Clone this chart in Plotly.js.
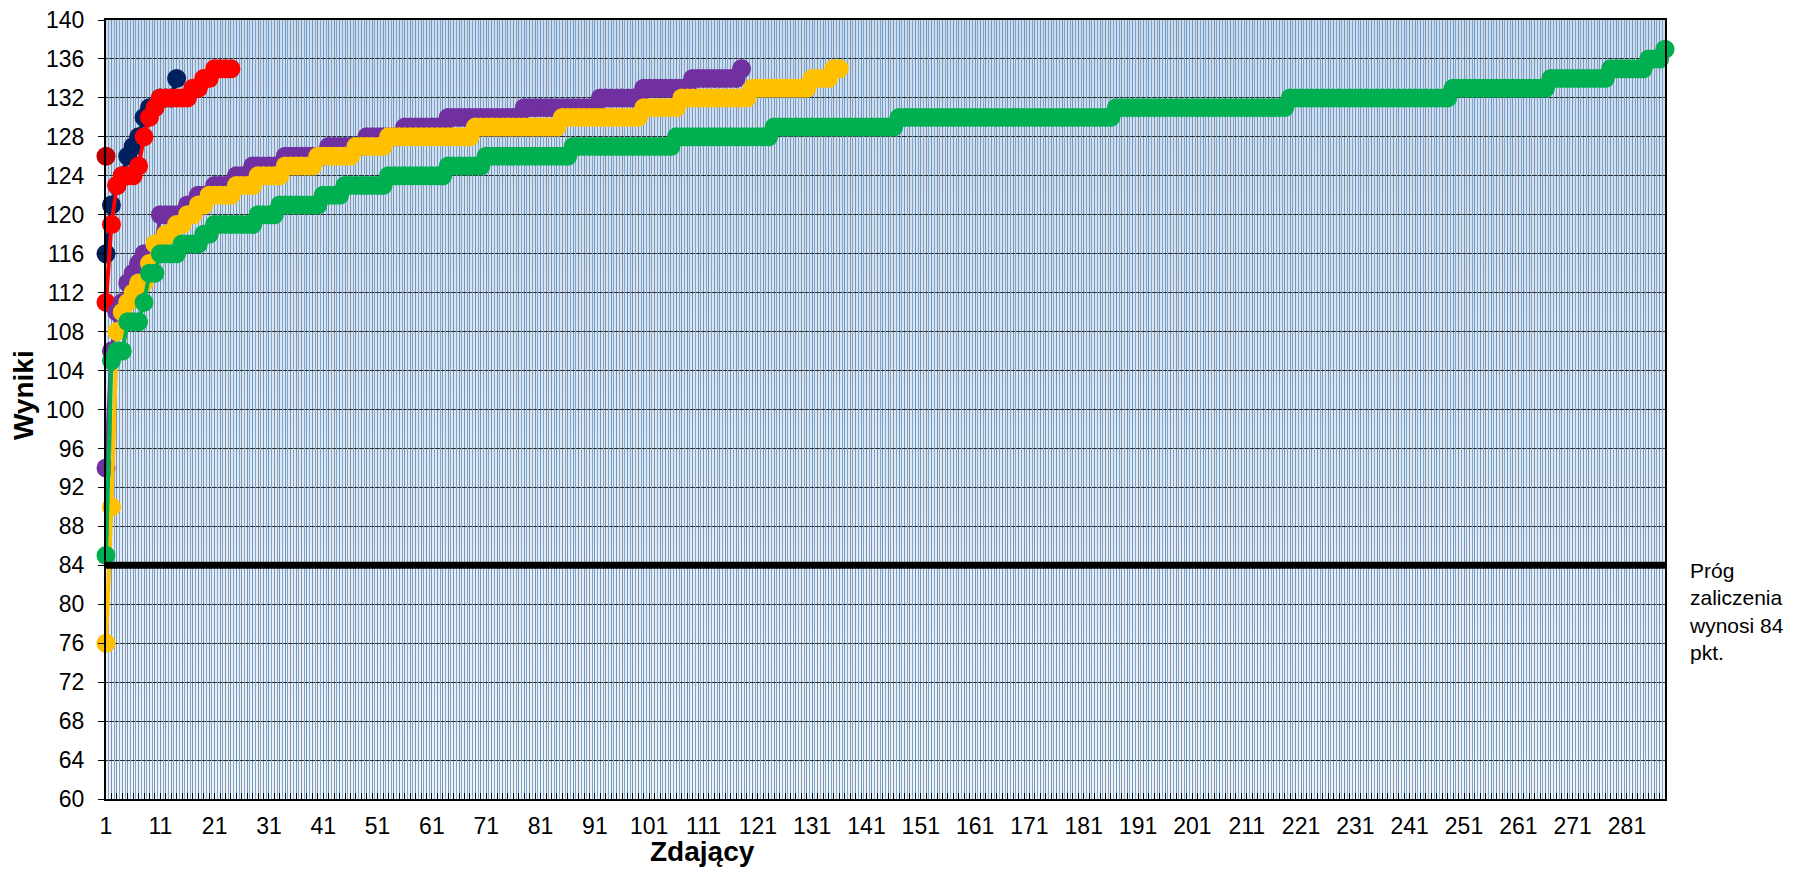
<!DOCTYPE html>
<html>
<head>
<meta charset="utf-8">
<script src="https://cdn.plot.ly/plotly-3.0.1.min.js"></script>
<style>
html,body{margin:0;padding:0;background:#ffffff;}
#chart{width:1796px;height:870px;}
</style>
</head>
<body>
<div id="chart"></div>
<script>
// ---- data ----
const nCategories = 288;
const xTickValues = [1,11,21,31,41,51,61,71,81,91,101,111,121,131,141,151,161,171,181,191,201,211,221,231,241,251,261,271,281];
const xTickLabels = ['1','11','21','31','41','51','61','71','81','91','101','111','121','131','141','151','161','171','181','191','201','211','221','231','241','251','261','271','281'];
const yTickValues = [60,64,68,72,76,80,84,88,92,96,100,104,108,112,116,120,124,128,132,136,140];

const threshold = 84;
const thresholdLabel = 'Próg<br>zaliczenia<br>wynosi 84<br>pkt.';

const seriesDarkRed = [126];

const seriesNavy = [116,121,123,124,126,127,128,130,131,131,132,132,132,134];

const seriesRed = [111,119,123,124,124,124,125,128,130,131,132,132,132,132,132,132,133,133,134,134,135,135,135,135];

const seriesPurple = [
  94,106,110,111,113,114,115,116,116,116,
  120,120,120,120,120,121,121,122,122,122,
  123,123,123,123,124,124,124,125,125,125,
  125,125,125,126,126,126,126,126,126,126,
  126,127,127,127,127,127,127,127,128,128,
  128,128,128,128,128,129,129,129,129,129,
  129,129,129,130,130,130,130,130,130,130,
  130,130,130,130,130,130,130,131,131,131,
  131,131,131,131,131,131,131,131,131,131,
  131,132,132,132,132,132,132,132,132,133,
  133,133,133,133,133,133,133,133,134,134,
  134,134,134,134,134,134,134,135
];

const seriesYellow = [
  76,90,108,110,111,112,113,113,115,117,
  117,118,118,119,119,120,120,121,121,122,
  122,122,122,122,123,123,123,123,124,124,
  124,124,124,125,125,125,125,125,125,126,
  126,126,126,126,126,126,127,127,127,127,
  127,127,128,128,128,128,128,128,128,128,
  128,128,128,128,128,128,128,128,129,129,
  129,129,129,129,129,129,129,129,129,129,
  129,129,129,129,130,130,130,130,130,130,
  130,130,130,130,130,130,130,130,130,131,
  131,131,131,131,131,131,132,132,132,132,
  132,132,132,132,132,132,132,132,132,133,
  133,133,133,133,133,133,133,133,133,133,
  134,134,134,134,135,135
];

const seriesGreen = [
  85,105,106,106,109,109,109,111,114,114,
  116,116,116,116,117,117,117,117,118,118,
  119,119,119,119,119,119,119,119,120,120,
  120,120,121,121,121,121,121,121,121,121,
  122,122,122,122,123,123,123,123,123,123,
  123,123,124,124,124,124,124,124,124,124,
  124,124,124,125,125,125,125,125,125,125,
  126,126,126,126,126,126,126,126,126,126,
  126,126,126,126,126,126,127,127,127,127,
  127,127,127,127,127,127,127,127,127,127,
  127,127,127,127,127,128,128,128,128,128,
  128,128,128,128,128,128,128,128,128,128,
  128,128,128,129,129,129,129,129,129,129,
  129,129,129,129,129,129,129,129,129,129,
  129,129,129,129,129,129,130,130,130,130,
  130,130,130,130,130,130,130,130,130,130,
  130,130,130,130,130,130,130,130,130,130,
  130,130,130,130,130,130,130,130,130,130,
  130,130,130,130,130,130,131,131,131,131,
  131,131,131,131,131,131,131,131,131,131,
  131,131,131,131,131,131,131,131,131,131,
  131,131,131,131,131,131,131,131,132,132,
  132,132,132,132,132,132,132,132,132,132,
  132,132,132,132,132,132,132,132,132,132,
  132,132,132,132,132,132,132,132,133,133,
  133,133,133,133,133,133,133,133,133,133,
  133,133,133,133,133,133,134,134,134,134,
  134,134,134,134,134,134,134,135,135,135,
  135,135,135,135,136,136,136,137
];

// ---- build traces ----
function idx(arr){ return arr.map((_, i) => i + 1); }

const FONT = 'Liberation Sans, Arial, sans-serif';
const MARKER = 19;
const LINEW = 4;

function series(name, values, color){
  return {
    type: 'scatter', mode: 'lines+markers', name: name,
    x: idx(values), y: values,
    line: {color: color, width: LINEW},
    marker: {color: color, size: MARKER, symbol: 'circle'},
    cliponaxis: false, hoverinfo: 'x+y'
  };
}

const traces = [
  series('Seria 1', seriesDarkRed, '#C00000'),
  series('Seria 2', seriesNavy, '#002060'),
  series('Seria 3', seriesRed, '#FF0000'),
  series('Seria 4', seriesPurple, '#7030A0'),
  series('Seria 5', seriesYellow, '#FFC000'),
  series('Seria 6', seriesGreen, '#00B050'),
  {
    type: 'scatter', mode: 'lines', name: 'Próg zaliczenia',
    x: [1, nCategories], y: [threshold, threshold],
    xaxis: 'x2', yaxis: 'y',
    line: {color: '#000000', width: 7},
    cliponaxis: false, hoverinfo: 'y'
  }
];

// soft vertical gradient for the plot area (bluer at top, lighter at bottom)
function gradientURL(){
  const c = document.createElement('canvas');
  c.width = 4; c.height = 256;
  const g = c.getContext('2d');
  const grd = g.createLinearGradient(0, 0, 0, 256);
  grd.addColorStop(0, '#c9dcf1');
  grd.addColorStop(1, '#eef3fa');
  g.fillStyle = grd; g.fillRect(0, 0, 4, 256);
  return c.toDataURL('image/png');
}

const layout = {
  width: 1796, height: 870,
  paper_bgcolor: '#ffffff',
  plot_bgcolor: '#dce7f4',
  showlegend: false,
  margin: {l: 106, r: 131, t: 20, b: 71, pad: 0},
  font: {family: FONT, color: '#000000'},
  images: [{
    source: gradientURL(), xref: 'paper', yref: 'paper',
    x: 0, y: 1, sizex: 1, sizey: 1, sizing: 'stretch',
    xanchor: 'left', yanchor: 'top', layer: 'below'
  }],
  xaxis: {
    range: [1, nCategories],
    tickmode: 'array', tickvals: xTickValues, ticktext: xTickLabels,
    ticks: 'inside', ticklen: 6, tickwidth: 1, tickcolor: '#000000',
    tickfont: {family: FONT, size: 23, color: '#000000'},
    ticklabelstandoff: 5,
    showgrid: true, gridcolor: '#8a939d', gridwidth: 1,
    minor: {tickmode: 'linear', tick0: 1, dtick: 1, ticks: 'inside', ticklen: 6, tickwidth: 1, tickcolor: '#000000',
            showgrid: true, gridcolor: '#8a939d', gridwidth: 1},
    showline: true, linecolor: '#000000', linewidth: 2, mirror: true,
    zeroline: false, fixedrange: true
  },
  xaxis2: {
    overlaying: 'x', side: 'bottom',
    range: [1, nCategories],
    tickmode: 'linear', tick0: 1.5, dtick: 1,
    showgrid: true, gridcolor: '#74a7d8', gridwidth: 1,
    showticklabels: false, ticks: '', showline: false, zeroline: false, fixedrange: true
  },
  yaxis: {
    range: [60, 140],
    tickmode: 'array', tickvals: yTickValues,
    ticks: 'outside', ticklen: 6, tickwidth: 1, tickcolor: '#000000',
    tickfont: {family: FONT, size: 23, color: '#000000'},
    ticklabelstandoff: 9,
    showgrid: true, gridcolor: '#2e2e2e', gridwidth: 1,
    showline: true, linecolor: '#000000', linewidth: 2, mirror: true,
    zeroline: false, fixedrange: true
  },
  annotations: [
    {
      text: '<b>Zdający</b>', xref: 'paper', yref: 'paper',
      x: 0.3826, y: -0.068, xanchor: 'center', yanchor: 'middle',
      showarrow: false, font: {family: FONT, size: 28, color: '#000000'}
    },
    {
      text: '<b>Wyniki</b>', xref: 'paper', yref: 'paper',
      x: -0.0532, y: 0.5186, xanchor: 'center', yanchor: 'middle', textangle: -90,
      showarrow: false, font: {family: FONT, size: 28, color: '#000000'}
    },
    {
      text: thresholdLabel, xref: 'paper', yref: 'paper',
      x: 1.0141, y: 0.2413, xanchor: 'left', yanchor: 'middle', align: 'left',
      showarrow: false, font: {family: FONT, size: 21, color: '#000000'}
    }
  ]
};

Plotly.newPlot('chart', traces, layout, {displayModeBar: false, staticPlot: true});
</script>
</body>
</html>
